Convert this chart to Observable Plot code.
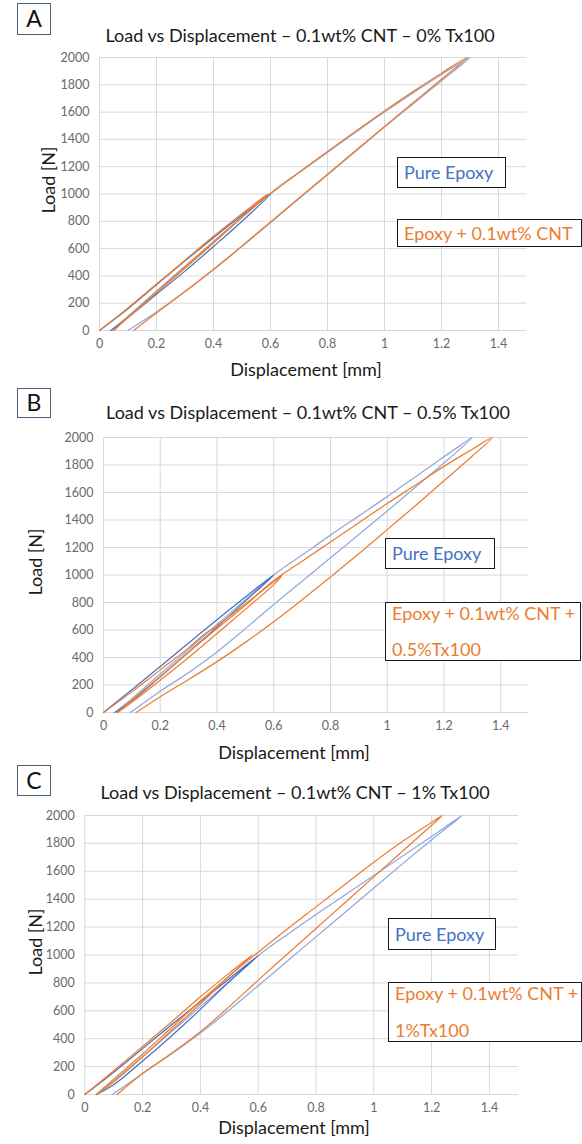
<!DOCTYPE html>
<html>
<head>
<meta charset="utf-8">
<script src="https://cdn.jsdelivr.net/npm/d3@7"></script>
<script src="https://cdn.jsdelivr.net/npm/@observablehq/plot@0.6"></script>
<style>
  html, body { margin: 0; padding: 0; background: #fff; }
  #page { position: relative; width: 582px; height: 1144px; overflow: hidden; font-family: Lato, "Noto Sans", sans-serif; color: #222; }
  .abs { position: absolute; white-space: nowrap; }
  .letter { border: 1.5px solid #4a5f7c; box-sizing: border-box; text-align: center; font-size: 23px; color: #111; }
  .title { font-size: 18px; line-height: 18px; transform: translateX(-50%); color: #1a1a1a; }
  .ylab { font-size: 18px; line-height: 18px; transform: translate(-50%, -50%) rotate(-90deg); color: #1a1a1a; }
  .xlab { font-size: 18px; line-height: 18px; transform: translate(-50%, -50%); color: #1a1a1a; }
  .leg { border: 1.5px solid #1a1a1a; box-sizing: border-box; background: #fff; font-size: 18px; padding-left: 6px; }
  .leg .ln { position: absolute; left: 6px; line-height: 18px; }
</style>
</head>
<body>
<div id="page"></div>
<script>
// ---------------- text ----------------
const panelLetters = ["A", "B", "C"];
const panelTitles = [
  "Load vs Displacement – 0.1wt% CNT – 0% Tx100",
  "Load vs Displacement – 0.1wt% CNT – 0.5% Tx100",
  "Load vs Displacement – 0.1wt% CNT – 1% Tx100"
];
const epoxyLegend = "Pure Epoxy";
const cntLegends = [
  ["Epoxy + 0.1wt% CNT"],
  ["Epoxy + 0.1wt% CNT +", "0.5%Tx100"],
  ["Epoxy + 0.1wt% CNT +", "1%Tx100"]
];
const xLabel = "Displacement [mm]";
const yLabel = "Load [N]";

// ---------------- ticks ----------------
const xTicks = [0, 0.2, 0.4, 0.6, 0.8, 1, 1.2, 1.4];
const yTicks = [0, 200, 400, 600, 800, 1000, 1200, 1400, 1600, 1800, 2000];

// ---------------- data (displacement mm, load N) ----------------
// Panel A – Pure Epoxy
const dispA_epoxy_1000 = [0, 0.1, 0.2, 0.3, 0.4, 0.5, 0.6, 0.5, 0.4, 0.3, 0.2, 0.1, 0.04];
const loadA_epoxy_1000 = [0, 160, 335, 510, 680, 845, 1000, 800, 615, 435, 265, 95, 0];
const dispA_epoxy_2000 = [0.04, 0.1, 0.2, 0.3, 0.4, 0.5, 0.6, 0.7, 0.8, 0.9, 1.0, 1.1, 1.2, 1.3, 1.2, 1.1, 1.0, 0.9, 0.8, 0.7, 0.6, 0.5, 0.4, 0.3, 0.2, 0.1];
const loadA_epoxy_2000 = [0, 105, 290, 470, 650, 830, 1000, 1155, 1305, 1455, 1600, 1740, 1875, 2000, 1830, 1660, 1490, 1315, 1140, 965, 790, 615, 445, 285, 135, 0];
// Panel A – Epoxy + 0.1wt% CNT
const dispA_cnt_1000 = [0, 0.1, 0.2, 0.3, 0.4, 0.5, 0.59, 0.5, 0.4, 0.3, 0.2, 0.1, 0.05];
const loadA_cnt_1000 = [0, 165, 340, 515, 690, 855, 1000, 830, 640, 455, 275, 100, 0];
const dispA_cnt_2000 = [0.05, 0.1, 0.2, 0.3, 0.4, 0.5, 0.6, 0.7, 0.8, 0.9, 1.0, 1.1, 1.2, 1.29, 1.2, 1.1, 1.0, 0.9, 0.8, 0.7, 0.6, 0.5, 0.4, 0.3, 0.2, 0.12];
const loadA_cnt_2000 = [0, 95, 280, 465, 650, 830, 1005, 1160, 1312, 1462, 1608, 1750, 1885, 2000, 1840, 1668, 1495, 1320, 1145, 970, 795, 620, 448, 285, 128, 0];

// Panel B – Pure Epoxy
const dispB_epoxy_1000 = [0, 0.1, 0.2, 0.3, 0.4, 0.5, 0.6, 0.5, 0.4, 0.3, 0.2, 0.1, 0.04];
const loadB_epoxy_1000 = [0, 165, 335, 505, 675, 840, 1000, 810, 620, 440, 260, 85, 0];
const dispB_epoxy_2000 = [0.04, 0.1, 0.2, 0.3, 0.4, 0.5, 0.6, 0.7, 0.8, 0.9, 1.0, 1.1, 1.2, 1.3, 1.2, 1.1, 1.0, 0.9, 0.8, 0.7, 0.6, 0.5, 0.4, 0.3, 0.2, 0.095];
const loadB_epoxy_2000 = [0, 100, 280, 460, 640, 820, 1000, 1145, 1290, 1430, 1570, 1715, 1860, 2000, 1815, 1640, 1465, 1295, 1125, 955, 785, 610, 440, 290, 155, 0];
// Panel B – Epoxy + 0.1wt% CNT + 0.5% Tx100
const dispB_cnt_1000 = [0, 0.1, 0.2, 0.3, 0.35, 0.4, 0.5, 0.6, 0.63, 0.6, 0.5, 0.4, 0.3, 0.2, 0.1, 0.05];
const loadB_cnt_1000 = [0, 150, 310, 470, 560, 630, 790, 950, 1000, 930, 750, 575, 400, 235, 75, 0];
const dispB_cnt_2000 = [0.05, 0.1, 0.2, 0.3, 0.4, 0.5, 0.6, 0.7, 0.8, 0.9, 1.0, 1.1, 1.2, 1.3, 1.37, 1.3, 1.2, 1.1, 1.0, 0.9, 0.8, 0.7, 0.6, 0.5, 0.4, 0.3, 0.2, 0.115];
const loadB_cnt_2000 = [0, 90, 260, 440, 610, 780, 960, 1100, 1240, 1380, 1520, 1655, 1790, 1915, 2000, 1865, 1685, 1505, 1330, 1155, 985, 820, 660, 510, 370, 240, 115, 0];

// Panel C – Pure Epoxy
const dispC_epoxy_1000 = [0, 0.1, 0.2, 0.3, 0.4, 0.5, 0.6, 0.5, 0.4, 0.3, 0.2, 0.1, 0.04];
const loadC_epoxy_1000 = [0, 160, 330, 500, 665, 830, 995, 810, 610, 420, 240, 70, 0];
const dispC_epoxy_2000 = [0.04, 0.1, 0.2, 0.3, 0.4, 0.5, 0.6, 0.7, 0.8, 0.9, 1.0, 1.1, 1.2, 1.306, 1.2, 1.1, 1.0, 0.9, 0.8, 0.7, 0.6, 0.5, 0.4, 0.3, 0.2, 0.095];
const loadC_epoxy_2000 = [0, 100, 270, 450, 630, 810, 995, 1145, 1290, 1430, 1570, 1710, 1850, 2000, 1825, 1655, 1480, 1305, 1130, 955, 780, 605, 440, 290, 150, 0];
// Panel C – Epoxy + 0.1wt% CNT + 1% Tx100
const dispC_cnt_1000 = [0, 0.1, 0.2, 0.3, 0.4, 0.5, 0.58, 0.5, 0.4, 0.3, 0.2, 0.1, 0.04];
const loadC_cnt_1000 = [0, 170, 345, 520, 700, 870, 1000, 850, 650, 460, 270, 90, 0];
const dispC_cnt_2000 = [0.04, 0.1, 0.2, 0.3, 0.4, 0.5, 0.6, 0.7, 0.8, 0.9, 1.0, 1.1, 1.2, 1.237, 1.2, 1.1, 1.0, 0.9, 0.8, 0.7, 0.6, 0.5, 0.4, 0.3, 0.2, 0.112];
const loadC_cnt_2000 = [0, 110, 290, 480, 670, 850, 1020, 1185, 1345, 1505, 1665, 1815, 1950, 2000, 1930, 1745, 1560, 1375, 1190, 1005, 820, 630, 450, 295, 150, 0];

// ---------------- colours ----------------
const epoxyDark = "#4472c4";
const epoxyLight = "#8faadc";
const cntColor = "#ed7d31";

// ---------------- layout (positions only) ----------------
const layout = [
  { letter: {left: 17, top: 3, w: 34, h: 32}, titleX: 300, titleTop: 26, svgTop: 45, plotTop: 57, plotBottom: 330, x0: 99, x1: 526.5,
    ylab: [48, 180], xlab: [306, 369], legPure: {left: 397, top: 157, w: 109, h: 31}, legCnt: {left: 397, top: 219, w: 185, h: 28} },
  { letter: {left: 17, top: 388, w: 34, h: 30}, titleX: 308, titleTop: 403, svgTop: 425, plotTop: 437, plotBottom: 712, x0: 103, x1: 528.6,
    ylab: [35, 562], xlab: [294, 752], legPure: {left: 385, top: 538, w: 110, h: 31}, legCnt: {left: 385, top: 602, w: 196, h: 59} },
  { letter: {left: 17, top: 765, w: 34, h: 31}, titleX: 295, titleTop: 783, svgTop: 803, plotTop: 815, plotBottom: 1094, x0: 84.3, x1: 517.8,
    ylab: [35, 942], xlab: [294, 1127], legPure: {left: 388, top: 918, w: 108, h: 32}, legCnt: {left: 388, top: 982, w: 194, h: 60} }
];

const panelData = [
  { epoxy: [[dispA_epoxy_1000, loadA_epoxy_1000], [dispA_epoxy_2000, loadA_epoxy_2000]],
    cnt:   [[dispA_cnt_1000, loadA_cnt_1000], [dispA_cnt_2000, loadA_cnt_2000]] },
  { epoxy: [[dispB_epoxy_1000, loadB_epoxy_1000], [dispB_epoxy_2000, loadB_epoxy_2000]],
    cnt:   [[dispB_cnt_1000, loadB_cnt_1000], [dispB_cnt_2000, loadB_cnt_2000]] },
  { epoxy: [[dispC_epoxy_1000, loadC_epoxy_1000], [dispC_epoxy_2000, loadC_epoxy_2000]],
    cnt:   [[dispC_cnt_1000, loadC_cnt_1000], [dispC_cnt_2000, loadC_cnt_2000]] }
];

const toRows = ([xs, ys]) => xs.map((x, i) => ({disp: x, load: ys[i]}));

const page = document.getElementById("page");
function addDiv(cls, text, style) {
  const d = document.createElement("div");
  d.className = "abs " + cls;
  if (text != null) d.textContent = text;
  Object.assign(d.style, style);
  page.appendChild(d);
  return d;
}

layout.forEach((L, p) => {
  const W = 582;
  const marginTop = L.plotTop - L.svgTop;
  const marginBottom = 24;
  const height = L.plotBottom - L.svgTop + marginBottom;
  const D = panelData[p];
  const lineOpts = {x: "disp", y: "load", strokeWidth: 1.25, curve: "catmull-rom"};

  const svg = Plot.plot({
    width: W,
    height,
    marginLeft: L.x0,
    marginRight: W - L.x1,
    marginTop,
    marginBottom,
    x: {domain: [0, 1.5]},
    y: {domain: [0, 2000]},
    style: {fontFamily: "Lato, 'Noto Sans', sans-serif", fontSize: "12.5px", background: "transparent", overflow: "visible"},
    marks: [
      Plot.gridX(xTicks, {stroke: "#d9d9d9", strokeOpacity: 1, strokeWidth: 1}),
      Plot.gridY(yTicks, {stroke: "#d9d9d9", strokeOpacity: 1, strokeWidth: 1}),
      Plot.axisX(xTicks, {tickSize: 0, tickPadding: 9, tickFormat: d => String(d), label: null, color: "#6a6a6a", fontSize: 12.5}),
      Plot.axisY(yTicks, {tickSize: 0, tickPadding: 10, tickFormat: d => String(d), label: null, color: "#6a6a6a", fontSize: 12.5}),
      Plot.line(toRows(D.epoxy[1]), {...lineOpts, stroke: epoxyLight}),
      Plot.line(toRows(D.epoxy[0]), {...lineOpts, stroke: epoxyDark}),
      Plot.line(toRows(D.cnt[1]), {...lineOpts, stroke: cntColor}),
      Plot.line(toRows(D.cnt[0]), {...lineOpts, stroke: cntColor})
    ]
  });
  svg.style.position = "absolute";
  svg.style.left = "0px";
  svg.style.top = L.svgTop + "px";
  page.appendChild(svg);

  addDiv("letter", panelLetters[p], {left: L.letter.left + "px", top: L.letter.top + "px", width: L.letter.w + "px", height: L.letter.h + "px", lineHeight: (L.letter.h - 3) + "px"});
  addDiv("title", panelTitles[p], {left: L.titleX + "px", top: L.titleTop + "px"});
  addDiv("ylab", yLabel, {left: L.ylab[0] + "px", top: L.ylab[1] + "px"});
  addDiv("xlab", xLabel, {left: L.xlab[0] + "px", top: L.xlab[1] + "px"});

  const lp = addDiv("leg", null, {left: L.legPure.left + "px", top: L.legPure.top + "px", width: L.legPure.w + "px", height: L.legPure.h + "px", color: epoxyDark});
  const s1 = document.createElement("div"); s1.className = "ln"; s1.textContent = epoxyLegend;
  s1.style.top = ((L.legPure.h - 3) / 2 - 9) + "px"; lp.appendChild(s1);

  const lc = addDiv("leg", null, {left: L.legCnt.left + "px", top: L.legCnt.top + "px", width: L.legCnt.w + "px", height: L.legCnt.h + "px", color: cntColor});
  const lines = cntLegends[p];
  lines.forEach((t, i) => {
    const s = document.createElement("div"); s.className = "ln"; s.textContent = t;
    const c = lines.length === 1 ? (L.legCnt.h - 3) / 2 : (i === 0 ? 10 : L.legCnt.h - 13);
    s.style.top = (c - 9) + "px";
    lc.appendChild(s);
  });
});
</script>
</body>
</html>
